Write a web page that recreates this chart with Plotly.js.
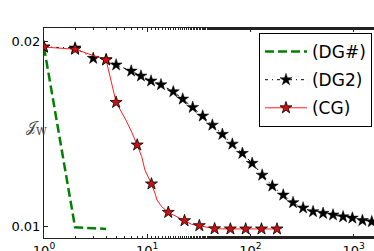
<!DOCTYPE html>
<html><head><meta charset="utf-8">
<script src="https://cdn.plot.ly/plotly-3.0.1.min.js"></script>
<style>html,body{margin:0;padding:0;overflow:hidden;background:#fff}</style>
</head><body><div id="chart"></div>
<script>
// (DG#)
const dgHashX = [1, 2, 3, 4];
const dgHashY = [0.0197, 0.00993, 0.00988, 0.00984];
// (DG2)
const dg2X = [1, 2, 3, 4, 5, 7, 8.7, 10.9, 13.6, 17.9, 22.1, 27.6, 34.5, 42.8, 53.5, 66.8, 83.6, 104, 130, 163, 208, 259, 324, 405, 506, 632, 791, 973, 1217, 1500];
const dg2Y = [0.0197, 0.01965, 0.01909, 0.01902, 0.01873, 0.0184, 0.01813, 0.01786, 0.01766, 0.01728, 0.01688, 0.01643, 0.01596, 0.01547, 0.01497, 0.01444, 0.01394, 0.0134, 0.01276, 0.01217, 0.01168, 0.01127, 0.01098, 0.01078, 0.01069, 0.0106, 0.0105, 0.01043, 0.0103, 0.01023];
// (CG) marked points
const cgStarX = [1, 2, 4, 5, 8, 11, 16, 23, 32, 45, 64, 90, 128, 181];
const cgStarY = [0.0197, 0.01958, 0.0190, 0.0167, 0.01439, 0.01228, 0.01074, 0.01029, 0.01002, 0.00985, 0.00984, 0.00984, 0.00984, 0.00984];
// (CG) full curve
const cgLineX = [1, 2, 4, 5, 6.2, 7, 8, 8.85, 9.5, 11, 11.9, 12.45, 13.8, 16, 23, 27, 32, 38, 45, 64, 90, 128, 181];
const cgLineY = [0.0197, 0.01958, 0.0190, 0.0167, 0.01575, 0.01515, 0.01439, 0.01376, 0.01304, 0.01228, 0.01177, 0.01141, 0.01105, 0.01074, 0.01029, 0.01009, 0.01002, 0.00992, 0.00985, 0.00984, 0.00984, 0.00984, 0.00984];
// ticks
const xTickVals = [1, 10, 100, 1000];
const xTickText = ['10<sup>0</sup>', '10<sup>1</sup>', '10<sup>2</sup>', '10<sup>3</sup>'];
const yTickVals = [0.01, 0.02];
const yTickText = ['0.01', '0.02'];

const traces = [
  {x: dgHashX, y: dgHashY, name: '(DG#)', mode: 'lines', legendgroup: 'a',
   line: {color: '#008000', width: 2.5, dash: '9px,4px'}},
  {x: dg2X, y: dg2Y, name: '(DG2)', mode: 'lines+markers', legendgroup: 'b',
   line: {color: '#000', width: 1, dash: '3px,4px,1px,4px'},
   marker: {symbol: 'star', size: 9, color: '#000', line: {color: '#000', width: 0.5}}},
  {x: cgLineX, y: cgLineY, mode: 'lines', showlegend: false, legendgroup: 'c',
   line: {color: '#ff2020', width: 1}},
  {x: cgStarX, y: cgStarY, mode: 'markers', showlegend: false, legendgroup: 'c',
   marker: {symbol: 'star', size: 9, color: '#d01010', line: {color: '#000', width: 0.8}}},
  {x: [null], y: [null], name: '(CG)', mode: 'lines+markers', legendgroup: 'c',
   line: {color: '#ff2020', width: 1},
   marker: {symbol: 'star', size: 9, color: '#d01010', line: {color: '#000', width: 0.8}}}
];

const layout = {
  width: 400, height: 251,
  margin: {l: 44, r: 22, t: 28, b: 13, pad: 0},
  paper_bgcolor: '#fff', plot_bgcolor: '#fff',
  font: {family: 'DejaVu Sans', size: 13, color: '#000'},
  showlegend: true,
  legend: {x: 0.982, xanchor: 'right', y: 0.976, yanchor: 'top',
    bordercolor: '#000', borderwidth: 1, bgcolor: '#fff',
    font: {family: 'DejaVu Sans', size: 17, color: '#000'},
    itemwidth: 42,
    traceorder: 'grouped', tracegroupgap: 3},
  xaxis: {type: 'log', range: [0, 3.2364], showgrid: false, zeroline: false,
    showline: true, linecolor: '#222', linewidth: 1, mirror: 'allticks',
    ticks: 'inside', ticklen: 4, tickcolor: '#222',
    tickvals: xTickVals, ticktext: xTickText,
    minor: {ticks: 'inside', ticklen: 2, tickcolor: '#222', showgrid: false},
    tickfont: {size: 13}},
  yaxis: {range: [0.00935, 0.020732], showgrid: false, zeroline: false,
    showline: true, linecolor: '#222', linewidth: 1, mirror: 'allticks',
    ticks: 'inside', ticklen: 4, tickcolor: '#222',
    tickvals: yTickVals, ticktext: yTickText, tickfont: {size: 13}},
  annotations: [{xref: 'paper', yref: 'paper', x: -0.06, y: 0.528,
    text: '𝒥<sub>W</sub>', showarrow: false,
    font: {family: 'DejaVu Serif', size: 15, color: '#444'}}]
};

Plotly.newPlot('chart', traces, layout, {displayModeBar: false, staticPlot: true});
</script>
</body></html>
